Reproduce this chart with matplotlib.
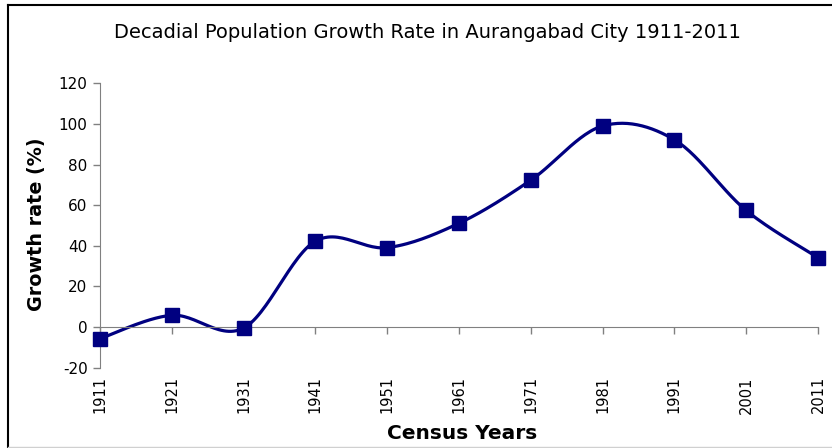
import matplotlib.pyplot as plt
import numpy as np
from matplotlib.lines import Line2D

years = ["1911", "1921", "1931", "1941", "1951", "1961", "1971", "1981", "1991", "2001", "2011"]
growth = [-5.7, 5.8, -0.5, 42.3, 39.1, 51.1, 72.3, 99.0, 92.2, 57.4, 34.2]

navy = "#000080"
plt.rcParams["axes.unicode_minus"] = False


def smooth(x, y, n=30):
    # Excel-style smoothed line (Catmull-Rom through the points)
    x = np.asarray(x, float)
    y = np.asarray(y, float)
    px = np.concatenate([[x[0]], x, [x[-1]]])
    py = np.concatenate([[y[0]], y, [y[-1]]])
    xs, ys = [], []
    t = np.linspace(0, 1, n)
    for i in range(1, len(px) - 2):
        p0, p1, p2, p3 = [np.array([px[j], py[j]]) for j in range(i - 1, i + 3)]
        c1 = p1 + (p2 - p0) / 6
        c2 = p2 - (p3 - p1) / 6
        for tt in t:
            pt = (1 - tt) ** 3 * p1 + 3 * (1 - tt) ** 2 * tt * c1 + 3 * (1 - tt) * tt ** 2 * c2 + tt ** 3 * p2
            xs.append(pt[0])
            ys.append(pt[1])
    return xs, ys


fig = plt.figure(figsize=(8.32, 4.48), dpi=100)
ax = fig.add_axes([100 / 832, 1 - 367.7 / 448, 718 / 832, (367.7 - 83.3) / 448])

pos = np.arange(len(years))
sx, sy = smooth(pos, growth)
ax.plot(sx, sy, color=navy, lw=2.3, solid_capstyle="round", clip_on=False)
ax.plot(pos, growth, "s", color=navy, ms=10, clip_on=False, zorder=3)

ax.set_xlim(0, len(years) - 1)
ax.set_ylim(-20, 120)
ax.set_yticks(range(-20, 121, 20))
ax.tick_params(axis="y", direction="out", length=5, width=1, color="#808080", labelsize=11, pad=4)

ax.spines["top"].set_visible(False)
ax.spines["right"].set_visible(False)
ax.spines["left"].set_color("#808080")
ax.spines["bottom"].set_color("#808080")
ax.spines["bottom"].set_position(("data", 0))
ax.set_xticks(pos)
ax.set_xticklabels([])
ax.tick_params(axis="x", direction="out", length=5, width=1, color="#808080")

for p, lab in zip(pos, years):
    ax.text(p, -0.03, lab, transform=ax.get_xaxis_transform(), rotation=90,
            ha="center", va="top", fontsize=10.5, clip_on=False)

fig.text(427 / 832, 1 - 32 / 448, "Decadial Population Growth Rate in Aurangabad City 1911-2011",
         ha="center", va="center", fontsize=14)
fig.text(37 / 832, 1 - 224 / 448, "Growth rate (%)", rotation=90, ha="center", va="center",
         fontsize=13.8, fontweight="bold")
fig.text(462 / 832, 1 - 433 / 448, "Census Years", ha="center", va="center",
         fontsize=14.5, fontweight="bold")

# chart area border
fig.add_artist(Line2D([8 / 832, 8 / 832], [1 - 447 / 448, 1 - 5 / 448], color="black", lw=1.5))
fig.add_artist(Line2D([8 / 832, 1], [1 - 5 / 448, 1 - 5 / 448], color="black", lw=1.5))
fig.add_artist(Line2D([8 / 832, 1], [1 - 446.5 / 448, 1 - 446.5 / 448], color="#d0d0d0", lw=1))

fig.savefig("out.png", dpi=100)
